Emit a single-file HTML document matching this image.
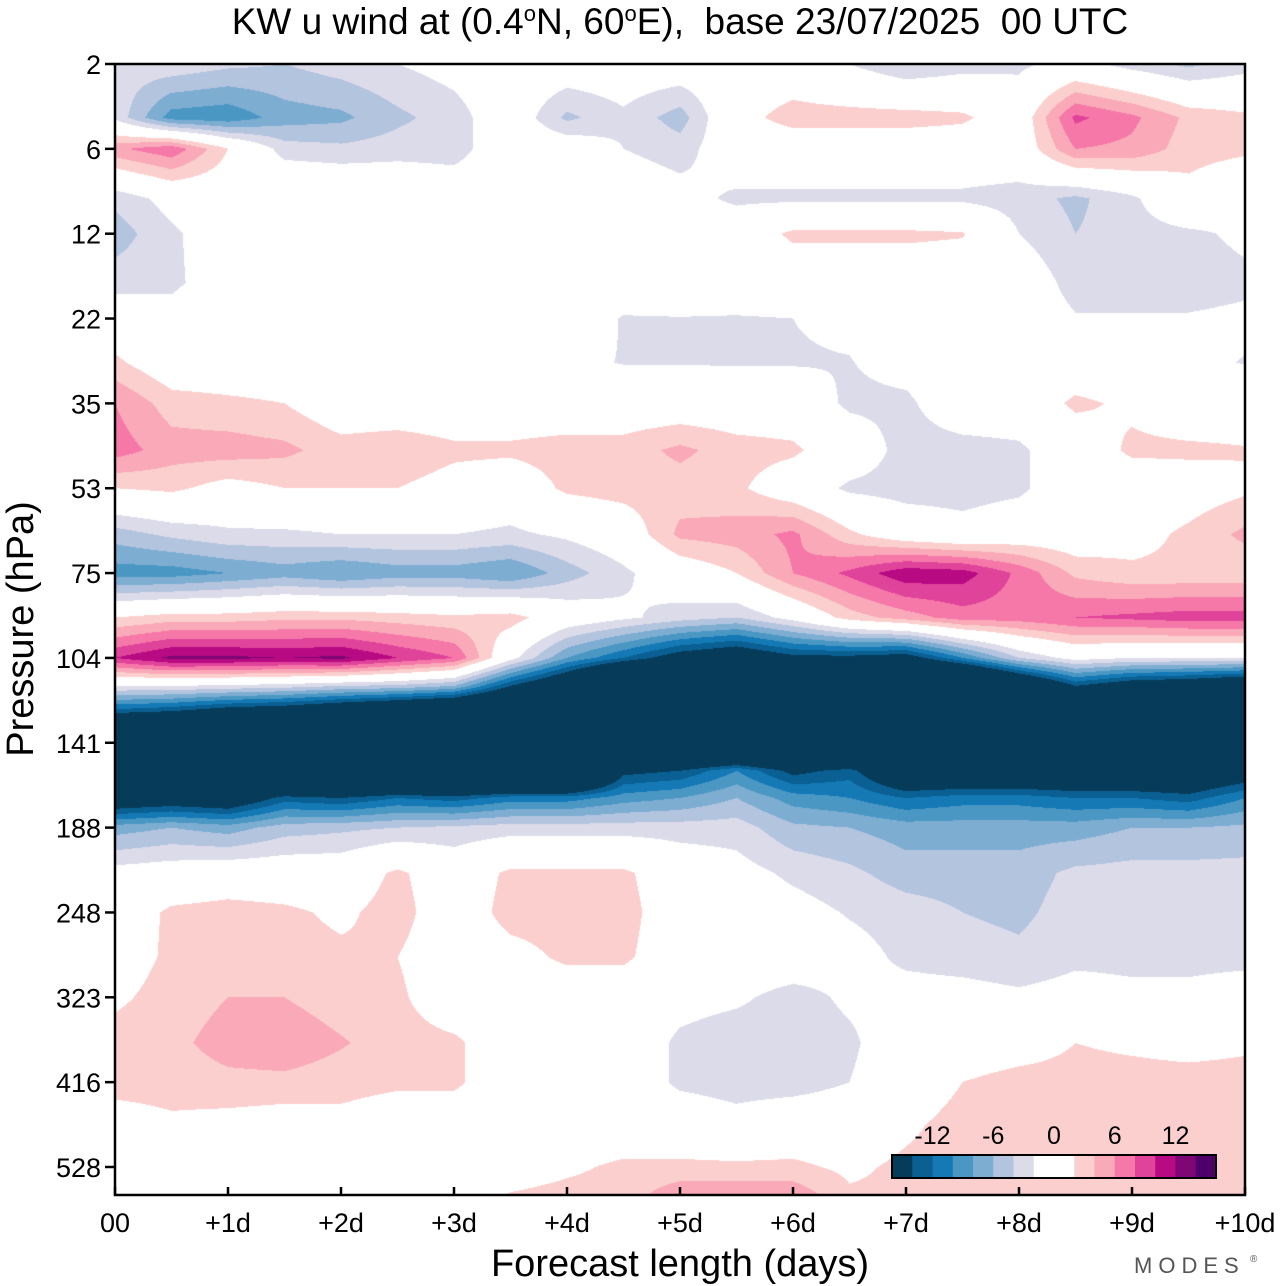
<!DOCTYPE html>
<html><head><meta charset="utf-8">
<style>
html,body{margin:0;padding:0;background:#fff;}
#wrap{position:relative;width:1280px;height:1286px;overflow:hidden;font-family:"Liberation Sans",sans-serif;}
#field{position:absolute;left:115px;top:64px;}
#ov{position:absolute;left:0;top:0;}
</style></head>
<body>
<div id="wrap">
<canvas id="field" width="1130" height="1131"></canvas>
<svg id="ov" width="1280" height="1286"></svg>
</div>
<script>
// ---- data ----
const times = [0,0.5,1,1.5,2,2.5,3,3.5,4,4.5,5,5.5,6,6.5,7,7.5,8,8.5,9,9.5,10];
const levels = [2,4,6,9,12,17,22,28,35,44,53,64,75,89,104,115,125,141,155,170,188,218,248,285,323,370,416,470,528,580];
const pTicks = [2,6,12,22,35,53,75,104,141,188,248,323,416,528];
const xTickLabels = ["00","+1d","+2d","+3d","+4d","+5d","+6d","+7d","+8d","+9d","+10d"];
const cbLabels = [-12,-6,0,6,12];
const bounds = [-16,-14,-12,-10,-8,-6,-4,-2,0,2,4,6,8,10,12,14,16];
const colors = ["#063b5a","#0a5f93","#1479b5","#4a97c4","#7eadd2","#b3c4df","#dcdbea","#ffffff","#ffffff","#fbcfce","#f9a9b7","#f578a8","#e0439a","#b80a82","#7f0675","#4e0068"];
const u = [
[-3,-2.5,-3.5,-4,-3,-2,-1,0,0,0,0,0,0,-2,-4,-3,-2.5,-1,-3,-4.5,-3],
[-2.5,-9,-9.5,-7,-6.5,-4.5,-3,0,-4.5,-2.5,-5,1,3,3,3,2.5,0,8.5,6.5,3.5,2.5],
[5.5,7.5,2,-3,-3.5,-3,-3,0,0,-2,-3,0,0,0,0,0,0,6,5.5,3,2.5],
[-3.5,-1,0,1.5,1.5,1,0,0,0,0,-1,-2.5,-2.5,-2.5,-2.5,-2.5,-3,-4.5,-2.5,1,-1],
[-5,-2.5,0,0,0,0,0,0,0,0,0,0,2.5,2.5,2.5,2.2,-2,-4,-3,-2.5,-1.5],
[-3,-2.5,-0.5,0,0,0,0,0,0,0,0,0,0,0,0,0,0,-3,-3,-3,-2.5],
[0,-1,0,-2,-2,0,0,0,0,-2.2,-2.1,-2.2,-2,-1.5,0,0,0,-1.8,-1.8,-1.8,-1.5],
[2.5,0,0,0,0,0,0,0,-1.5,-2.1,-2.1,-2.2,-2.2,-2.1,-1,0,0,0,0,-1.5,-2.1],
[6,3,2.5,2,0,0,0,0,0,0,0,0,0,-2.5,-2.5,0,0,2.5,1.5,0,0],
[7,5,5,4.5,3,3.5,2.5,2.5,3,3,4.5,3,2.5,0,-3,-3,-2.5,0,2.5,2.5,2.2],
[2,2.5,1,2,2,2,1,0,2.5,3,3,2.5,0,-2.5,-3,-3,-2.5,0,0,0.5,1.5],
[-5,-3.5,-2.5,-2.5,-2,-2,-2,-2.5,-1.5,0,4.5,5,6.5,2.5,0,-1,0,0,1,2.5,4.5],
[-9,-9,-8,-7,-8,-7,-7,-8,-5,-2.5,0,2,6,8.5,11.5,11,7.5,3.5,2.5,2.5,2.5],
[2,3,3,3.5,3.5,3,2.5,3,0,-1.5,-3,-4,-1,3,5,7,7,8,8.5,9,9],
[10,12.5,12.5,12,12.5,10,8,-1,-8,-12,-16,-18,-15,-15,-16,-10,-4,-1,-2,-2,-2],
[-2,-2,-2.5,-3,-4,-4.5,-6,-14,-20,-30,-30,-30,-30,-30,-30,-30,-22,-14,-17,-18,-20],
[-12,-13,-15,-16,-18,-20,-22,-25,-30,-30,-30,-30,-30,-30,-30,-30,-30,-30,-30,-30,-30],
[-30,-30,-30,-30,-30,-30,-30,-30,-30,-30,-30,-30,-30,-30,-30,-30,-30,-30,-30,-30,-30],
[-30,-30,-30,-30,-30,-30,-30,-30,-30,-15,-14,-10,-15,-13,-20,-20,-20,-20,-20,-20,-17],
[-18,-17,-18,-13,-14,-12,-13,-11,-11,-9,-8,-6,-9,-10,-12,-11,-11,-12,-12,-13,-10],
[-7,-6,-7,-5,-4.5,-4,-3.5,-3,-3,-3,-3,-3,-5.5,-6,-7,-7,-7,-7,-6,-6,-5.5],
[-1,-0.5,0,0,0,2.5,0,2.5,2.5,2.5,0,-1,-2.5,-3.5,-5,-5,-5,-3.5,-3.2,-3.2,-3.2],
[0,2.5,3,2.5,1.5,3,0,3,3,3,0,0,-1,-2.2,-3,-4,-4.5,-3,-2.8,-2.8,-2.8],
[0.5,2.5,3,3,2.5,2,0,1,2.5,2.5,0,0,0,-1,-2.5,-3,-3.5,-2.5,-2.5,-2.5,-2.5],
[1.5,3,4,4,3,2.5,0,0,0,0,-1,-1.5,-3,-1.5,-1,-1,-1.5,-1,-1.5,-1.5,-1],
[3,3.5,4.8,5.3,4.2,3,2.5,0,0,0,-2.5,-3.5,-3.5,-2.5,0,0,0.5,2,1.5,1,1.5],
[3,3,3.5,3.5,3,2.5,2.5,0,0,0,-2.5,-3,-3,-2,0,2,3,3,3,3,3],
[0.5,1.5,1,0.5,1,0,0,0,0,0,0,-1,0,0,1.5,3,3,3,3,3,3],
[0,0,0,0,0,0,0,0.5,1.5,2.5,2.5,2.5,2.5,1.5,2.5,3,3,3,3,3,2.5],
[0,0,0,0,0,0,0,2.5,3,3,6,6,6,2.5,2.5,2.5,2,2,2,2,2]
];

// ---- axes ----
const X0=115, X1=1245, Y0=64, YB=1195, TICKSTEP=(1167-64)/13;
function xOf(t){ return X0 + (t/10)*(X1-X0); }
function yOf(p){
  const L=pTicks.length;
  let i=0;
  if(p<=pTicks[0]) i=0; else if(p>=pTicks[L-1]) i=L-2;
  else { while(!(p>=pTicks[i]&&p<=pTicks[i+1])) i++; }
  const f=Math.log(p/pTicks[i])/Math.log(pTicks[i+1]/pTicks[i]);
  return Y0 + (i+f)*TICKSTEP;
}

// ---- field ----
(function(){
  const cv=document.getElementById('field'), ctx=cv.getContext('2d');
  const W=cv.width,H=cv.height, img=ctx.createImageData(W,H);
  const rowY=levels.map(yOf);
  const rgb=colors.map(c=>[parseInt(c.substr(1,2),16),parseInt(c.substr(3,2),16),parseInt(c.substr(5,2),16)]);
  for(let py=0;py<H;py++){
    const y=Y0+py+0.5;
    let r=0; while(r<rowY.length-2 && y>rowY[r+1]) r++;
    let fy=(y-rowY[r])/(rowY[r+1]-rowY[r]); fy=Math.max(0,Math.min(1,fy));
    for(let px=0;px<W;px++){
      const t=(px+0.5)/W*10;
      let c=Math.min(times.length-2,Math.floor(t/0.5));
      let fx=(t-times[c])/(times[c+1]-times[c]);
      const v=(u[r][c]*(1-fx)+u[r][c+1]*fx)*(1-fy)+(u[r+1][c]*(1-fx)+u[r+1][c+1]*fx)*fy;
      let k=0; while(k<colors.length-1 && v>=bounds[k+1]) k++;
      const o=(py*W+px)*4;
      img.data[o]=rgb[k][0];img.data[o+1]=rgb[k][1];img.data[o+2]=rgb[k][2];img.data[o+3]=255;
    }
  }
  ctx.putImageData(img,0,0);
})();

// ---- overlay ----
const NS='http://www.w3.org/2000/svg', svg=document.getElementById('ov');
function mk(tag,attrs,txt){const e=document.createElementNS(NS,tag);for(const k in attrs)e.setAttribute(k,attrs[k]);if(txt!==undefined)e.textContent=txt;svg.appendChild(e);return e;}

const title=mk('text',{x:680,y:34,'text-anchor':'middle','font-size':37,fill:'#000',style:'white-space:pre'});


title.innerHTML='KW u wind at (0.4<tspan dy="-13" font-size="22">o</tspan><tspan dy="13">N, 60</tspan><tspan dy="-13" font-size="22">o</tspan><tspan dy="13">E),  base 23/07/2025  00 UTC</tspan>';

const frame=mk('rect',{x:X0,y:Y0,width:X1-X0,height:YB-Y0,fill:'none',stroke:'#000','stroke-width':2.5});



pTicks.forEach(p=>{
  const y=yOf(p);
  const tk=mk('line',{x1:X0-10,x2:X0,y1:y,y2:y,stroke:'#000','stroke-width':2.5});
  
  
  const lb=mk('text',{x:101,y:y+10,'text-anchor':'end','font-size':27,fill:'#000'},String(p));
  
  
});
xTickLabels.forEach((s,i)=>{
  const x=xOf(i);
  const tk=mk('line',{x1:x,x2:x,y1:YB-8,y2:YB,stroke:'#000','stroke-width':2.5});
  
  
  const lb=mk('text',{x:x,y:1232,'text-anchor':'middle','font-size':27,fill:'#000'},s);
  
  
});
const yt=mk('text',{x:0,y:0,'text-anchor':'middle','font-size':38,fill:'#000',transform:'translate(33,629) rotate(-90)'},'Pressure (hPa)');


const xt=mk('text',{x:680,y:1276,'text-anchor':'middle','font-size':38,fill:'#000'},'Forecast length (days)');


const logo=mk('text',{x:1134,y:1273,'font-size':22,fill:'#555','letter-spacing':'6'},'MODES');


const reg=mk('text',{x:1250,y:1262,'font-size':10,fill:'#555'},'®');



// colorbar
const CB0=892, CB1=1216, CBY=1155, CBH=23;
function cbX(v){ return CB0 + (v-bounds[0])/(bounds[bounds.length-1]-bounds[0])*(CB1-CB0); }
colors.forEach((c,k)=>{
  const r=mk('rect',{x:cbX(bounds[k]),y:CBY,width:cbX(bounds[k+1])-cbX(bounds[k])+0.5,height:CBH,fill:c});
  
  
});
const cbf=mk('rect',{x:CB0,y:CBY,width:CB1-CB0,height:CBH,fill:'none',stroke:'#000','stroke-width':2});


cbLabels.forEach(v=>{
  const t=mk('text',{x:cbX(v),y:1144,'text-anchor':'middle','font-size':25,fill:'#000'},String(v));
  
  
});
</script>
</body></html>
